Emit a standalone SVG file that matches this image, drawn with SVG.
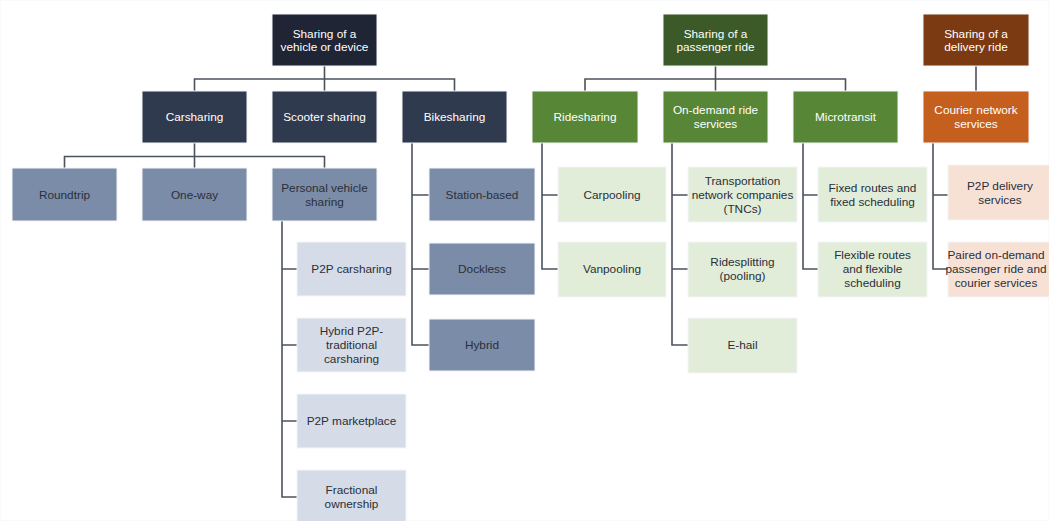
<svg xmlns="http://www.w3.org/2000/svg" width="1049" height="521" viewBox="0 0 1049 521">
<style>
text{font-family:"Liberation Sans",Arial,sans-serif;font-size:11.8px;text-anchor:middle;dominant-baseline:central}
.w{fill:#ffffff}.d{fill:#2a2f38}
.navy0{fill:#1f2535}.navy1{fill:#2f3a4e}.blue2{fill:#7b8ca8}.blue3{fill:#d5dce7}
.grn0{fill:#3b5a27}.grn1{fill:#578636}.grn3{fill:#e1edd9}
.org0{fill:#7b3a12}.org1{fill:#c55f1e}.org3{fill:#f7e1d5}
rect{stroke:#f4f5f7;stroke-width:1}
.c{fill:none;stroke:#4b515d;stroke-width:1.6}
</style>
<rect width="1049" height="521" fill="#ffffff" stroke="none"/>
<g id="connectors">
<path class="c" d="M324.5 66V79M194.5 91V79H454.5V91M324.5 79V91"/>
<path class="c" d="M194.5 143V156.5M64.5 168V156.5H324.5V168M194.5 156.5V168"/>
<path class="c" d="M282 221V497H297M282 269H297M282 345H297M282 421H297"/>
<path class="c" d="M412 143V345H429M412 195H429M412 269H429"/>
<path class="c" d="M715.5 66V79M585 91V79H845.5V91M715.5 79V91"/>
<path class="c" d="M542 143V269H558M542 195H558"/>
<path class="c" d="M672 143V345H688M672 195H688M672 269H688"/>
<path class="c" d="M803 143V269H818M803 195H818"/>
<path class="c" d="M976 66V91"/>
<path class="c" d="M933 143V269H948M933 195H948"/>
</g>
<g id="n-vehicle"><rect class="navy0" x="272" y="14" width="105" height="52"/><text class="w" x="324.5" y="33.5">Sharing of a</text><text class="w" x="324.5" y="47">vehicle or device</text></g>
<g id="n-passenger"><rect class="grn0" x="663" y="14" width="105" height="52"/><text class="w" x="715.5" y="33.5">Sharing of a</text><text class="w" x="715.5" y="47">passenger ride</text></g>
<g id="n-delivery"><rect class="org0" x="923" y="14" width="106" height="52"/><text class="w" x="976" y="33.5">Sharing of a</text><text class="w" x="976" y="47">delivery ride</text></g>
<g id="n-carsharing"><rect class="navy1" x="142" y="91" width="105" height="52"/><text class="w" x="194.5" y="117">Carsharing</text></g>
<g id="n-scooter"><rect class="navy1" x="272" y="91" width="105" height="52"/><text class="w" x="324.5" y="117">Scooter sharing</text></g>
<g id="n-bikesharing"><rect class="navy1" x="402" y="91" width="105" height="52"/><text class="w" x="454.5" y="117">Bikesharing</text></g>
<g id="n-ridesharing"><rect class="grn1" x="532" y="91" width="106" height="52"/><text class="w" x="585" y="117">Ridesharing</text></g>
<g id="n-ondemand"><rect class="grn1" x="663" y="91" width="105" height="52"/><text class="w" x="715.5" y="110">On-demand ride</text><text class="w" x="715.5" y="124">services</text></g>
<g id="n-microtransit"><rect class="grn1" x="793" y="91" width="105" height="52"/><text class="w" x="845.5" y="117">Microtransit</text></g>
<g id="n-courier"><rect class="org1" x="923" y="91" width="106" height="52"/><text class="w" x="976" y="110">Courier network</text><text class="w" x="976" y="124">services</text></g>
<g id="n-roundtrip"><rect class="blue2" x="12" y="168" width="105" height="53"/><text class="d" x="64.5" y="194.5">Roundtrip</text></g>
<g id="n-oneway"><rect class="blue2" x="142" y="168" width="105" height="53"/><text class="d" x="194.5" y="194.5">One-way</text></g>
<g id="n-personal"><rect class="blue2" x="272" y="168" width="105" height="53"/><text class="d" x="324.5" y="187.5">Personal vehicle</text><text class="d" x="324.5" y="201.5">sharing</text></g>
<g id="n-station"><rect class="blue2" x="429" y="168" width="106" height="53"/><text class="d" x="482" y="194.5">Station-based</text></g>
<g id="n-dockless"><rect class="blue2" x="429" y="243" width="106" height="52"/><text class="d" x="482" y="269">Dockless</text></g>
<g id="n-hybrid"><rect class="blue2" x="429" y="319" width="106" height="52"/><text class="d" x="482" y="345">Hybrid</text></g>
<g id="n-p2pcar"><rect class="blue3" x="297" y="242" width="109" height="54"/><text class="d" x="351.5" y="269">P2P carsharing</text></g>
<g id="n-hybridp2p"><rect class="blue3" x="297" y="318" width="109" height="54"/><text class="d" x="351.5" y="331">Hybrid P2P-</text><text class="d" x="351.5" y="345">traditional</text><text class="d" x="351.5" y="359">carsharing</text></g>
<g id="n-market"><rect class="blue3" x="297" y="394" width="109" height="54"/><text class="d" x="351.5" y="421">P2P marketplace</text></g>
<g id="n-fractional"><rect class="blue3" x="297" y="470" width="109" height="54"/><text class="d" x="351.5" y="490">Fractional</text><text class="d" x="351.5" y="504">ownership</text></g>
<g id="n-carpooling"><rect class="grn3" x="558" y="167" width="108" height="55"/><text class="d" x="612" y="194.5">Carpooling</text></g>
<g id="n-vanpooling"><rect class="grn3" x="558" y="242" width="108" height="55"/><text class="d" x="612" y="269">Vanpooling</text></g>
<g id="n-tnc"><rect class="grn3" x="688" y="167" width="109" height="55"/><text class="d" x="742.5" y="180.5">Transportation</text><text class="d" x="742.5" y="194.5">network companies</text><text class="d" x="742.5" y="208.5">(TNCs)</text></g>
<g id="n-ridesplitting"><rect class="grn3" x="688" y="242" width="109" height="55"/><text class="d" x="742.5" y="262">Ridesplitting</text><text class="d" x="742.5" y="276">(pooling)</text></g>
<g id="n-ehail"><rect class="grn3" x="688" y="318" width="109" height="55"/><text class="d" x="742.5" y="345">E-hail</text></g>
<g id="n-fixed"><rect class="grn3" x="818" y="167" width="109" height="55"/><text class="d" x="872.5" y="187.5">Fixed routes and</text><text class="d" x="872.5" y="201.5">fixed scheduling</text></g>
<g id="n-flexible"><rect class="grn3" x="818" y="242" width="109" height="55"/><text class="d" x="872.5" y="255">Flexible routes</text><text class="d" x="872.5" y="269">and flexible</text><text class="d" x="872.5" y="283">scheduling</text></g>
<g id="n-p2pdelivery"><rect class="org3" x="948" y="165" width="108" height="55"/><text class="d" x="1000" y="185.5">P2P delivery</text><text class="d" x="1000" y="199.5">services</text></g>
<g id="n-paired"><rect class="org3" x="948" y="242" width="108" height="55"/><text class="d" x="996" y="255">Paired on-demand</text><text class="d" x="996" y="269">passenger ride and</text><text class="d" x="996" y="283">courier services</text></g>
</svg>
